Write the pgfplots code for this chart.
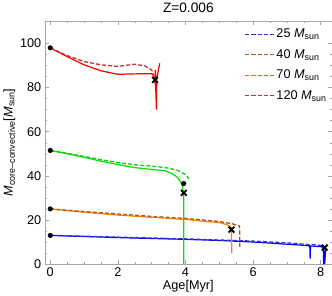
\documentclass[border=0pt]{standalone}
\usepackage{pgfplots}
\pgfplotsset{compat=1.18}
\usepackage{fontspec}
\setmainfont{Liberation Sans}
\newcommand{\Msun}{\textit{M}\textsubscript{sun}}
\definecolor{sblue}{rgb}{0,0,1}
\definecolor{sorange}{rgb}{1,0.5,0}
\definecolor{sgreen}{rgb}{0,0.9,0}
\definecolor{sred}{rgb}{1,0,0}
\definecolor{legblue}{rgb}{0.2,0.2,0.8}
\definecolor{legbrown}{rgb}{0.67,0.36,0.1}
\definecolor{leggreen}{rgb}{0.1,0.78,0.1}
\definecolor{legred}{rgb}{0.8,0.2,0.2}
\pgfplotsset{mydash/.style={color=#1, line width=1.3pt, dash pattern=on 4pt off 2pt}}
\begin{document}
\begin{tikzpicture}
\begin{axis}[
  scale only axis,
  width=283pt, height=240pt,
  xmin=-0.16, xmax=8.33, ymin=0, ymax=110.3,
  xtick={0,2,4,6,8}, ytick={0,20,40,60,80,100},
  minor tick num=3,
  tick align=inside,
  axis line style={gray!70},
  every tick/.style={gray!70},
  major tick length=4pt, minor tick length=2pt,
  /pgf/number format/assume math mode=true,
  tick label style={font=\fontsize{12.5}{14}\selectfont},
  title={Z=0.006},
  title style={font=\fontsize{13.5}{15}\selectfont, yshift=-2pt},
  xlabel={Age[Myr]},
  ylabel={\textit{M}\textsubscript{core{\textendash}convective}[\Msun]},
  label style={font=\fontsize{12.5}{14}\selectfont},
  xlabel style={yshift=3pt},
  ylabel style={yshift=-2pt},
  legend style={draw=none, fill=none, at={(1,1)}, anchor=north east,
    font=\fontsize{12.5}{14}\selectfont, row sep=6pt, yshift=-4pt},
  legend cell align=left,
  legend image code/.code={\draw[#1] (0pt,0pt) -- (28pt,0pt);},
]
% solid lines
\addplot[color=sblue, line width=1.2pt, forget plot] coordinates {(0,13) (1,12.5) (2,12) (3,11.6) (4,11.2) (5,10.7) (6,10) (7,9) (7.4,8.6) (7.66,8.3) (7.68,7.5) (7.69,2.5) (7.7,8.2) (7.9,8.0) (8.05,7.8) (8.08,6) (8.09,0) (8.1,7) (8.12,0) (8.14,5) (8.16,7)};
\addplot[color=sorange, line width=1.2pt, forget plot] coordinates {(0,25) (1,23.5) (2,22.2) (3,21.2) (4,20.2) (5,18.8) (5.2,18) (5.3,17.2) (5.36,16.5) (5.37,4.8)};
\addplot[color=sgreen, line width=1.2pt, forget plot] coordinates {(0,51.5) (0.5,50) (1,48.4) (1.5,46.6) (2,45.1) (2.5,43.7) (3,42.9) (3.4,42.3) (3.6,41) (3.75,39.5) (3.85,37.5) (3.92,35) (3.95,30) (3.95,0)};
\addplot[color=sred, line width=1.2pt, forget plot] coordinates {(0,98) (0.5,94) (1,90.3) (1.5,87.6) (2,86) (2.5,86.2) (3,86.3) (3.05,85.5) (3.1,82) (3.11,88) (3.12,80) (3.14,70) (3.15,84) (3.2,88) (3.24,91)};
% dashed lines
\addplot[mydash=legblue] coordinates {(0,13) (2,12.2) (4,11.4) (6,10.4) (7,9.6) (7.6,8.9) (7.72,8.9) (7.9,8.6) (8.1,8.2)};
\addlegendentry{25 \Msun}
\addplot[mydash=legbrown] coordinates {(0,25) (1,23.8) (2,22.7) (3,21.6) (4,20.7) (5,19.3) (5.4,18.2) (5.6,17.2) (5.61,7.2)};
\addlegendentry{40 \Msun}
\addplot[mydash=leggreen] coordinates {(0,51.5) (0.5,50.2) (1,48.8) (1.5,47.3) (2,46) (2.5,45) (3,44.4) (3.5,43.5) (3.8,42.3) (4,40.5) (4.1,38.8)};
\addlegendentry{70 \Msun}
\addplot[mydash=legred] coordinates {(0,98) (0.5,94.5) (1,91.8) (1.5,90.3) (2,89.6) (2.5,90.6) (2.8,89.8) (3,88) (3.1,84)};
\addlegendentry{120 \Msun}
% markers
\addplot[only marks, mark=*, mark size=2.3pt, black, forget plot] coordinates {(0,98) (0,51.5) (0,25) (0,13) (3.95,36.5)};
\addplot[only marks, mark=x, mark size=4pt, black, line width=1.8pt, forget plot] coordinates {(3.1,83.5) (3.95,32.3) (5.36,15.6) (8.12,7.5)};
\end{axis}
\end{tikzpicture}
\end{document}
